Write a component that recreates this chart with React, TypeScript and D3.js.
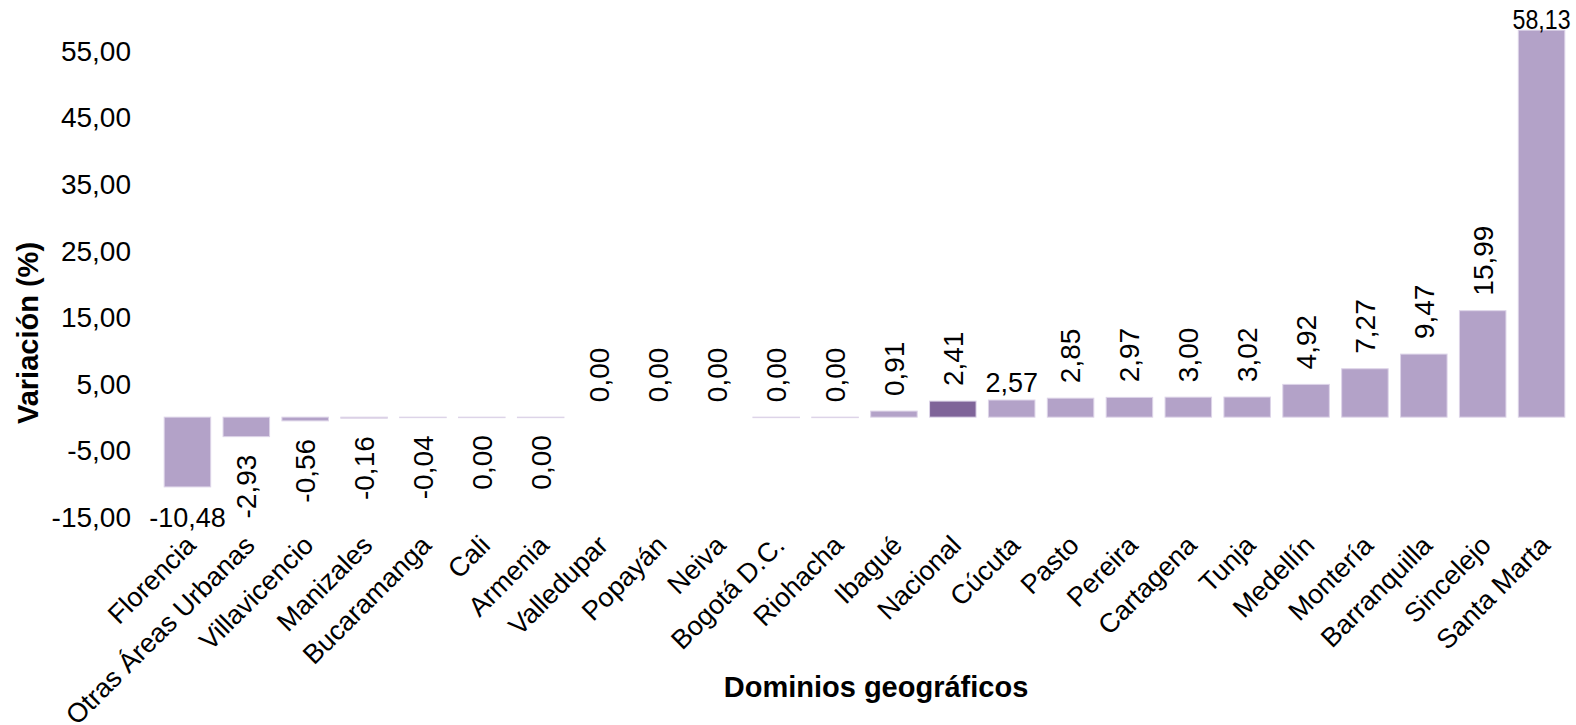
import React from "react";
import * as d3 from "d3";

const categories = [
  "Florencia", "Otras Áreas Urbanas", "Villavicencio", "Manizales", "Bucaramanga", "Cali", "Armenia",
  "Valledupar", "Popayán", "Neiva", "Bogotá D.C.", "Riohacha", "Ibagué", "Nacional", "Cúcuta",
  "Pasto", "Pereira", "Cartagena", "Tunja", "Medellín", "Montería", "Barranquilla", "Sincelejo", "Santa Marta",
];
// null = no bar drawn (label still shows 0,00)
const values: (number | null)[] = [
  -10.48, -2.93, -0.56, -0.16, -0.04, -0.001, -0.001,
  null, null, null, 0.001, 0.001, 0.91, 2.41, 2.57,
  2.85, 2.97, 3.0, 3.02, 4.92, 7.27, 9.47, 15.99, 58.13,
];
const highlight = ["Nacional"];
const horizontalLabels = ["Florencia", "Cúcuta", "Santa Marta"];
const yTicks = [-15, -5, 5, 15, 25, 35, 45, 55];

const W = 1576;
const H = 725;
const FONT = "'Liberation Sans', Arial, sans-serif";

const fmt = (v: number) => {
  const s = Math.abs(v).toFixed(2).replace(".", ",");
  return (v < 0 && Math.abs(v) >= 0.005 ? "-" : "") + s;
};

export default function App() {
  const x = d3.scaleBand<string>().domain(categories).range([158, 1571]).paddingInner(0.21).paddingOuter(0.105);
  const y = d3.scaleLinear().domain([-15, 55]).range([517, 51]);
  const y0 = y(0);
  const bw = x.bandwidth();

  return (
    <svg width={W} height={H} style={{ position: "absolute", left: 0, top: 0, background: "#fff" }} fontFamily={FONT}>
      {yTicks.map((t) => (
        <text key={t} x={131} y={y(t)} dy="0.35em" textAnchor="end" fontSize={28} fill="#000">
          {fmt(t)}
        </text>
      ))}
      {categories.map((c, i) => {
        const v = values[i];
        if (v === null) return null;
        const yv = y(v);
        const top = Math.min(yv, y0);
        const h = Math.max(Math.abs(yv - y0), 0.5);
        return (
          <rect
            key={c}
            x={x(c)}
            y={top}
            width={bw}
            height={h}
            fill={highlight.includes(c) ? "#7f6499" : "#b3a2c8"}
            stroke="#ddd4e8"
            strokeWidth={1}
          />
        );
      })}
      {categories.map((c, i) => {
        const raw = values[i];
        const v = raw === null ? 0 : raw;
        const cx = (x(c) as number) + bw / 2;
        const label = fmt(v);
        const neg = v < 0;
        if (horizontalLabels.includes(c)) {
          if (neg) {
            return (
              <text key={c} x={cx} y={y(v) + 40} textAnchor="middle" fontSize={27}>
                {label}
              </text>
            );
          }
          const top = c === "Santa Marta";
          return (
            <text key={c} x={cx} y={y(v) - (top ? 1 : 8)} textAnchor="middle" fontSize={27} textLength={top ? 58 : undefined} lengthAdjust="spacingAndGlyphs">
              {label}
            </text>
          );
        }
        if (neg) {
          const end = Math.max(y(v), y0) + 18;
          return (
            <text key={c} transform={`translate(${cx},${end}) rotate(-90)`} textAnchor="end" dy="0.35em" fontSize={28}>
              {label}
            </text>
          );
        }
        const start = Math.min(y(v), y0) - 15;
        return (
          <text key={c} transform={`translate(${cx},${start}) rotate(-90)`} textAnchor="start" dy="0.35em" fontSize={28}>
            {label}
          </text>
        );
      })}
      {categories.map((c) => {
        const cx = (x(c) as number) + bw / 2;
        return (
          <text key={c} transform={`translate(${cx + 10},${547}) rotate(-45)`} textAnchor="end" fontSize={27}>
            {c}
          </text>
        );
      })}
      <text x={876} y={697} textAnchor="middle" fontSize={29} fontWeight="bold">
        Dominios geográficos
      </text>
      <text transform={`translate(38,333) rotate(-90)`} textAnchor="middle" fontSize={29} fontWeight="bold">
        Variación (%)
      </text>
    </svg>
  );
}
